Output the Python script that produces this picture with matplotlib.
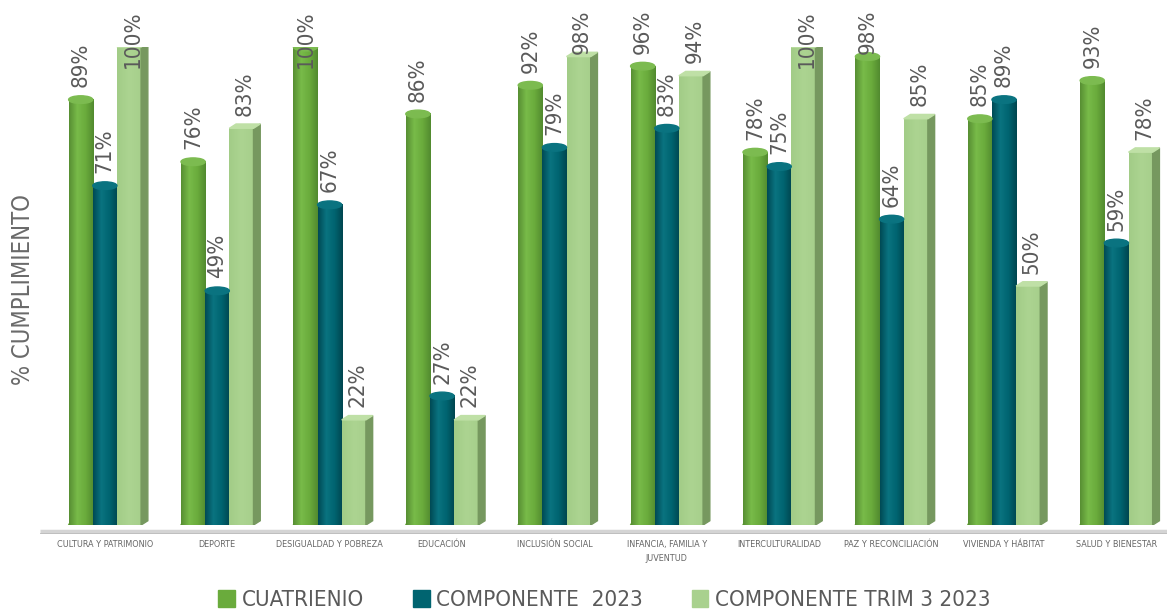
import numpy as np
import matplotlib.pyplot as plt
from matplotlib.colors import LinearSegmentedColormap
from matplotlib.patches import Ellipse, Polygon, Patch

plt.rcParams['font.family'] = ['DejaVu Sans']
plt.rcParams['font.stretch'] = 'condensed'
plt.rcParams['font.weight'] = 'light'

categorias = ["CULTURA Y PATRIMONIO", "DEPORTE", "DESIGUALDAD Y POBREZA", "EDUCACIÓN",
              "INCLUSIÓN SOCIAL", "INFANCIA, FAMILIA Y\nJUVENTUD", "INTERCULTURALIDAD",
              "PAZ Y RECONCILIACIÓN", "VIVIENDA Y HÁBITAT", "SALUD Y BIENESTAR"]
cuatrienio = [89, 76, 100, 86, 92, 96, 78, 98, 85, 93]
componente_2023 = [71, 49, 67, 27, 79, 83, 75, 64, 89, 59]
componente_trim3 = [100, 83, 22, 22, 98, 94, 100, 85, 50, 78]
series_names = ["CUATRIENIO", "COMPONENTE  2023", "COMPONENTE TRIM 3 2023"]

c_green = "#6aab3c"
c_teal = "#006470"
c_light = "#a9d18e"
txt = "#5a5a5a"

fig = plt.figure(figsize=(11.67, 6.10), dpi=100)
ax = fig.add_axes([0.034, 0.1393, 0.966, 0.7836])

x = np.arange(len(categorias))
w = 0.215
grad = np.linspace(0, 1, 64).reshape(1, -1)

cyl_green = LinearSegmentedColormap.from_list("g", ["#578f33", "#78bb49", "#6aab3c", "#528a2f"])
cyl_teal = LinearSegmentedColormap.from_list("t", ["#004a55", "#0a7380", "#006470", "#00464f"])
box_light = LinearSegmentedColormap.from_list("l", ["#a2cc87", "#acd491", "#a6cf8b"])


def cylinder(xc, v, cmap, cap):
    ax.imshow(grad, extent=[xc - w / 2, xc + w / 2, 0, v], aspect='auto', cmap=cmap, zorder=3)
    ax.add_patch(Ellipse((xc, v), w, 1.6, color=cap, zorder=4))
    ax.add_patch(Ellipse((xc, 0), w, 1.6, color=cmap(0.6), zorder=2))


def box(xc, v):
    d, dy = 0.06, 0.9
    x0, x1 = xc - w / 2, xc + w / 2
    ax.imshow(grad, extent=[x0, x1, 0, v], aspect='auto', cmap=box_light, zorder=3)
    ax.add_patch(Polygon([(x1, 0), (x1 + d, dy), (x1 + d, v + dy), (x1, v)],
                         closed=True, color="#76985f", zorder=3))
    ax.add_patch(Polygon([(x0, v), (x0 + d, v + dy), (x1 + d, v + dy), (x1, v)],
                         closed=True, color="#bfe0a6", zorder=4))


labels = []
for i in x:
    xg, xt, xl = i - w, i, i + w
    cylinder(xg, cuatrienio[i], cyl_green, "#7cbb50")
    cylinder(xt, componente_2023[i], cyl_teal, "#0a7380")
    box(xl, componente_trim3[i])
    for xc, v in [(xg, cuatrienio[i]), (xt, componente_2023[i]), (xl + 0.03, componente_trim3[i])]:
        t = ax.text(xc, v + 2.6, f"{v}%", rotation=90, ha='center', va='bottom',
                    fontsize=16, color=txt, zorder=6, clip_on=False)
        labels.append(t)

ax.set_xlim(-0.58, 9.45)
ax.set_ylim(0, 100)
ax.set_xticks(x)
ax.set_xticklabels(categorias, fontsize=6.5, color="#666666", linespacing=1.6, va='top')
ax.tick_params(axis='x', length=0, pad=11)
ax.set_yticks([])
for s in ax.spines.values():
    s.set_visible(False)

# floor
ax.plot([-0.58, 9.45], [-1.2, -1.2], color="#d4d4d4", lw=2.5, clip_on=False, zorder=1,
        solid_capstyle='butt')
ax.plot([-0.58, 9.45], [-1.75, -1.75], color="#b5b5b5", lw=0.6, clip_on=False, zorder=1)

fig.text(0.02, 0.525, "% CUMPLIMIENTO", rotation=90, ha='center', va='center',
         fontsize=17, color="#6a6a6a")

handles = [Patch(color=c_green), Patch(color=c_teal), Patch(color=c_light)]
fig.legend(handles, series_names, loc='center', bbox_to_anchor=(0.518, 0.016), ncol=3,
           frameon=False, fontsize=16, handlelength=0.75, handleheight=0.75,
           handletextpad=0.3, columnspacing=2.2, labelcolor=txt)

# keep labels inside figure top
fig.canvas.draw()
r = fig.canvas.get_renderer()
H = fig.bbox.height
for t in labels:
    bb = t.get_window_extent(r)
    if bb.y1 > H - 10:
        shift = bb.y1 - (H - 10)
        xd, yd = t.get_position()
        y_px = ax.transData.transform((xd, yd))[1] - shift
        t.set_position((xd, ax.transData.inverted().transform((0, y_px))[1]))

fig.savefig("out.png", dpi=100)
